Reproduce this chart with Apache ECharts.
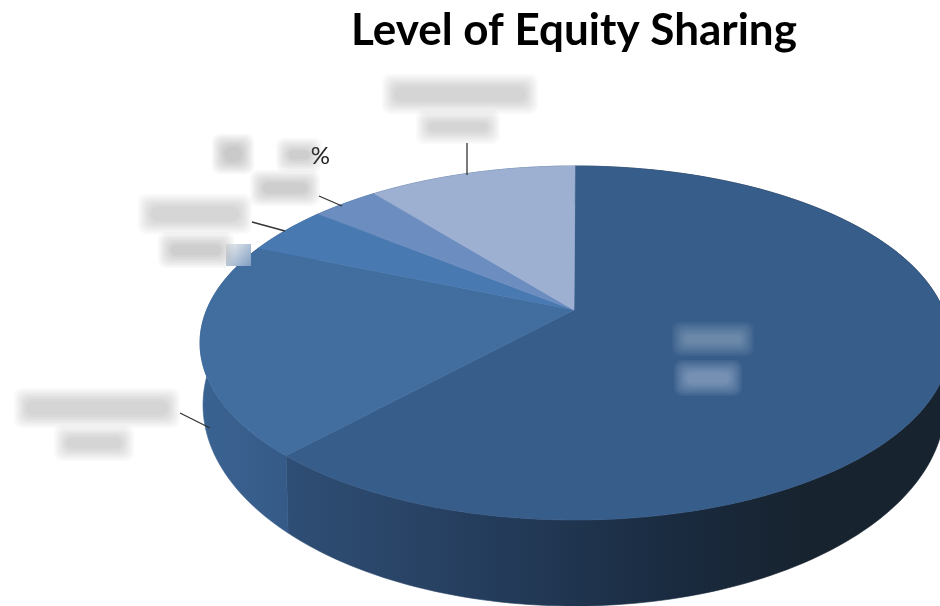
<!DOCTYPE html>
<html>
<head>
    <meta charset="utf-8">
    <title>Level of Equity Sharing</title>
    <script src="https://cdn.jsdelivr.net/npm/echarts@6/dist/echarts.min.js"></script>
    <style>
        html, body { margin: 0; padding: 0; background: #fff; }
        #main { width: 940px; height: 606px; }
    </style>
</head>
<body>
<div id="main"></div>
<script type="text/javascript">
    var chartTitle = 'Level of Equity Sharing';
    // slice names are blurred out in the picture, only the shares can be estimated
    var sliceNames = ['Slice 1', 'Slice 2', 'Slice 3', 'Slice 4', 'Slice 5'];
    var sliceShares = [64, 20, 4, 3, 9];
    var topColors = ['#375d8a', '#416d9f', '#4879b1', '#6c8dbf', '#9db0d1'];

    // perspective of the disc
    var apex = [574, 310];
    var topEllipse = {cx: 575, cy: 343, rx: 375, ry: 177};
    var baseEllipse = {cx: 574, cy: 405, rx: 371, ry: 201};

    function onEllipse(e, deg) {
        var t = deg * Math.PI / 180;
        return [e.cx + e.rx * Math.sin(t), e.cy - e.ry * Math.cos(t)];
    }

    function arcPoints(e, from, to) {
        var pts = [];
        var steps = Math.max(4, Math.ceil((to - from) / 1.5));
        for (var i = 0; i <= steps; i++) {
            pts.push(onEllipse(e, from + (to - from) * i / steps));
        }
        return pts;
    }

    function sliceRange(index) {
        var total = sliceShares.reduce(function (a, b) { return a + b; }, 0);
        var before = sliceShares.slice(0, index).reduce(function (a, b) { return a + b; }, 0);
        return [before / total * 360, (before + sliceShares[index]) / total * 360];
    }

    function wallFill(index) {
        if (index === 0) {
            return {
                type: 'linear', x: 290, y: 0, x2: 800, y2: 0, global: true,
                colorStops: [
                    {offset: 0, color: '#2f4e75'},
                    {offset: 0.4, color: '#243c5b'},
                    {offset: 0.75, color: '#1a2b40'},
                    {offset: 1, color: '#17232f'}
                ]
            };
        }
        return {
            type: 'linear', x: 205, y: 0, x2: 290, y2: 0, global: true,
            colorStops: [
                {offset: 0, color: '#3a6290'},
                {offset: 1, color: '#355a88'}
            ]
        };
    }

    function renderWall(params, api) {
        var r = sliceRange(params.dataIndex);
        var pts = arcPoints(topEllipse, r[0], r[1]).concat(arcPoints(baseEllipse, r[0], r[1]).reverse());
        var fill = wallFill(params.dataIndex);
        return {type: 'polygon', shape: {points: pts}, style: {fill: fill, stroke: fill, lineWidth: 0.6}};
    }

    function renderTop(params, api) {
        var r = sliceRange(params.dataIndex);
        var pts = [apex].concat(arcPoints(topEllipse, r[0], r[1]));
        var color = topColors[params.dataIndex];
        return {type: 'polygon', shape: {points: pts}, style: {fill: color, stroke: color, lineWidth: 0.6}};
    }

    function leader(x1, y1, x2, y2) {
        return {
            type: 'line', z: 32,
            shape: {x1: x1, y1: y1, x2: x2, y2: y2},
            style: {stroke: '#333', lineWidth: 1.3}
        };
    }

    // soft patch standing in for a blurred out label: nested see-through rects fade in from the edge
    function smudge(x, y, w, h, rgb, alpha) {
        var layers = [];
        var rings = 9;
        for (var i = 0; i < rings; i++) {
            var inset = i * 1.6;
            if (w - 2 * inset <= 2 || h - 2 * inset <= 2) break;
            layers.push({
                type: 'rect', z: 30,
                shape: {x: x + inset, y: y + inset, width: w - 2 * inset, height: h - 2 * inset, r: 8},
                style: {fill: 'rgba(' + rgb + ',' + alpha + ')'}
            });
        }
        return layers;
    }

    var grey = '120,116,116';
    var light = '190,205,222';

    var myChart = echarts.init(document.getElementById('main'), null, {renderer: 'canvas'});
    var rows = sliceNames.map(function (n, i) { return {name: n, value: sliceShares[i]}; });

    var option = {
        animation: false,
        backgroundColor: '#fff',
        series: [
            {type: 'custom', name: 'wall', coordinateSystem: 'none', z: 2, clip: false, renderItem: renderWall, data: rows},
            {type: 'custom', name: 'top', coordinateSystem: 'none', z: 3, clip: false, renderItem: renderTop, data: rows}
        ],
        graphic: [
            {
                type: 'text', z: 40, x: 574, y: 31,
                style: {
                    text: chartTitle, fill: '#000', align: 'center', verticalAlign: 'middle',
                    font: 'bold 44px Lato, "Open Sans", sans-serif'
                }
            },
            {
                type: 'text', z: 25, x: 330, y: 156,
                style: {
                    text: '%', fill: '#222', align: 'right', verticalAlign: 'middle',
                    font: '24px Lato, "Open Sans", sans-serif'
                }
            },
            {
                type: 'rect', z: 29,
                shape: {x: 226, y: 244, width: 25, height: 22},
                style: {
                    fill: {
                        type: 'linear', x: 0, y: 0, x2: 1, y2: 1,
                        colorStops: [{offset: 0, color: '#f1f2f4'}, {offset: 1, color: '#7f9dc0'}]
                    }
                }
            },
            leader(180, 413, 210, 428),
            leader(252, 222, 285, 231),
            leader(319, 196, 342, 206),
            leader(467, 143, 467, 175)
        ].concat(
            // top label
            smudge(382, 74, 156, 40, grey, 0.035),
            smudge(416, 110, 84, 34, grey, 0.035),
            // fourth label
            smudge(212, 134, 42, 40, grey, 0.05),
            smudge(276, 138, 46, 34, grey, 0.045),
            smudge(250, 170, 70, 36, grey, 0.045),
            // third label
            smudge(138, 194, 114, 40, grey, 0.04),
            smudge(158, 232, 76, 36, grey, 0.045),
            // left label
            smudge(14, 388, 166, 40, grey, 0.035),
            smudge(54, 425, 80, 36, grey, 0.035),
            // label on the big slice
            smudge(672, 322, 82, 34, light, 0.06),
            smudge(674, 360, 68, 36, light, 0.075)
        )
    };

    myChart.setOption(option);
</script>
</body>
</html>
